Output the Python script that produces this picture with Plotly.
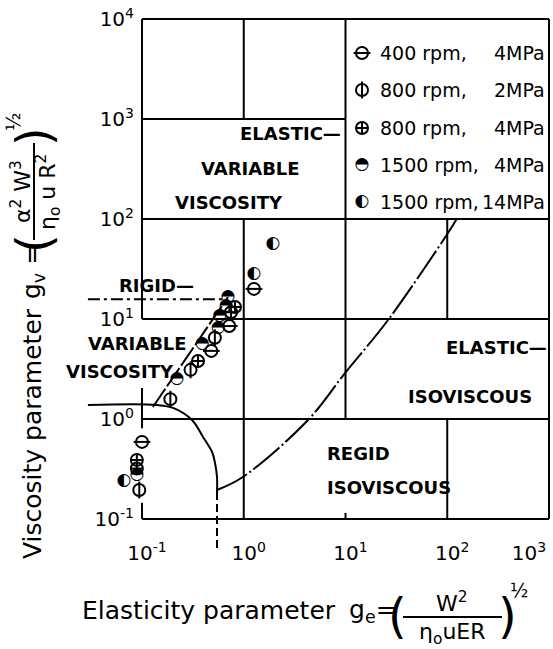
import plotly.graph_objects as go

# ---------------- data ----------------
# g_e = elasticity parameter, g_v = viscosity parameter
ge_400_4MPa = [1.26, 0.72, 0.48, 0.100]
gv_400_4MPa = [20.0, 8.5, 4.8, 0.59]
ge_800_2MPa = [0.52, 0.30, 0.19, 0.094]
gv_800_2MPa = [6.5, 3.1, 1.58, 0.195]
ge_800_4MPa = [0.82, 0.75, 0.355, 0.089, 0.089]
gv_800_4MPa = [13.2, 11.7, 3.8, 0.39, 0.32]
ge_1500_4MPa = [0.70, 0.67, 0.58, 0.56, 0.39, 0.22, 0.089]
gv_1500_4MPa = [16.6, 13.5, 10.7, 8.1, 5.6, 2.5, 0.275]
ge_1500_14MPa = [1.94, 1.26, 0.0665]
gv_1500_14MPa = [56.2, 28.2, 0.24]

legend_left = ["400 rpm,", "800 rpm,", "800 rpm,", "1500 rpm,", "1500 rpm,"]
legend_right = ["4MPa", "2MPa", "4MPa", "4MPa", "14MPa"]

# regime boundary curves
rigid_ge = [0.0294, 0.684]
rigid_gv = [15.8, 15.8]
iso_var_ge = [0.0294, 0.140, 0.202, 0.310, 0.398, 0.488, 0.522, 0.546, 0.546]
iso_var_gv = [1.38, 1.38, 1.29, 0.977, 0.661, 0.468, 0.363, 0.263, 0.186]
vert_ge = [0.546, 0.546]
vert_gv = [0.186, 0.049]
elastic_iso_ge = [0.546, 0.98, 4.28, 9.89, 26.2, 101.6, 125]
elastic_iso_gv = [0.195, 0.263, 0.977, 2.88, 9.77, 72.4, 102]
elastic_var_ge = [0.128, 0.700]
elastic_var_gv = [1.32, 16.6]

x_tickvals = [0.1, 1, 10, 100, 1000]
x_ticktext = ["10<sup>-1</sup>", "10<sup>0</sup>", "10<sup>1</sup>", "10<sup>2</sup>", "10<sup>3</sup>"]
y_tickvals = [0.1, 1, 10, 100, 1000, 10000]
y_ticktext = ["10<sup>-1</sup>", "10<sup>0</sup>", "10<sup>1</sup>", "10<sup>2</sup>", "10<sup>3</sup>", "10<sup>4</sup>"]

# frame / region box segments: (constant, start, end)
h_segments = [(1e4, 0.1, 1e3), (1e3, 0.1, 10), (1e2, 0.1, 1e3), (10, 0.1, 1e3), (1, 0.1, 1e3), (0.1, 0.1, 1e3)]
v_segments = [(0.1, 10, 1e4), (0.1, 0.81, 2.04), (0.1, 0.1, 0.145), (1, 1e3, 1e4), (1, 0.1, 1e2),
              (10, 1, 1e4), (10, 0.1, 0.115), (100, 10, 100), (100, 0.1, 1), (1e3, 0.1, 1e4)]

# ---------------- layout geometry (window pixels) ----------------
W, H = 553, 649
ML, MR, MT = 78, 0, 11
PH = 544
MB = H - MT - PH
PW = W - ML - MR
XPD, YPD = 101.75, 100.0  # pixels per decade
X_LO = -1 - (142 - ML) / XPD
X_HI = X_LO + PW / XPD
Y_LO = -1 - (H - MB - 519) / YPD
Y_HI = Y_LO + PH / YPD


def px(x):  # window pixel -> paper x
    return (x - ML) / PW


def py(y):  # window pixel -> paper y
    return (H - MB - y) / PH


FONT = "DejaVu Sans"
BLK = "black"

fig = go.Figure()

# boundary curves
fig.add_trace(go.Scatter(x=rigid_ge, y=rigid_gv, mode="lines",
                         line=dict(color=BLK, width=2, dash="12px,4px,3px,4px"), showlegend=False))
fig.add_trace(go.Scatter(x=iso_var_ge, y=iso_var_gv, mode="lines", line_shape="spline",
                         line=dict(color=BLK, width=2), showlegend=False))
fig.add_trace(go.Scatter(x=vert_ge, y=vert_gv, mode="lines",
                         line=dict(color=BLK, width=2, dash="8px,4px"), showlegend=False))
fig.add_trace(go.Scatter(x=elastic_iso_ge, y=elastic_iso_gv, mode="lines", line_shape="spline",
                         line=dict(color=BLK, width=2, dash="34px,3px,2px,3px"), showlegend=False))
fig.add_trace(go.Scatter(x=elastic_var_ge, y=elastic_var_gv, mode="lines",
                         line=dict(color=BLK, width=2, dash="22px,3px"), showlegend=False))

MS = 12
mline = dict(color=BLK, width=2)


def add_points(gx, gy, kind, xa="x", ya="y"):
    if kind == "theta":
        fig.add_trace(go.Scatter(x=gx, y=gy, xaxis=xa, yaxis=ya, mode="markers", cliponaxis=False,
                                 marker=dict(symbol="circle-open", size=MS, color=BLK, line=mline), showlegend=False))
        fig.add_trace(go.Scatter(x=gx, y=gy, xaxis=xa, yaxis=ya, mode="markers", cliponaxis=False,
                                 marker=dict(symbol="line-ew", size=MS, color=BLK, line=mline), showlegend=False))
    elif kind == "phi":
        fig.add_trace(go.Scatter(x=gx, y=gy, xaxis=xa, yaxis=ya, mode="markers", cliponaxis=False,
                                 marker=dict(symbol="circle-open", size=MS, color=BLK, line=mline), showlegend=False))
        fig.add_trace(go.Scatter(x=gx, y=gy, xaxis=xa, yaxis=ya, mode="markers", cliponaxis=False,
                                 marker=dict(symbol="line-ns", size=MS, color=BLK, line=mline), showlegend=False))
    elif kind == "plus":
        fig.add_trace(go.Scatter(x=gx, y=gy, xaxis=xa, yaxis=ya, mode="markers", cliponaxis=False,
                                 marker=dict(symbol="circle-cross-open", size=MS, color=BLK, line=mline),
                                 showlegend=False))
    else:
        glyph = "\u25d3" if kind == "tophalf" else "\u25d0"
        fig.add_trace(go.Scatter(x=gx, y=gy, xaxis=xa, yaxis=ya, mode="text", cliponaxis=False,
                                 text=[glyph] * len(gx), textposition="middle center",
                                 textfont=dict(family=FONT, size=17, color=BLK), showlegend=False))


series = [(ge_400_4MPa, gv_400_4MPa, "theta"), (ge_800_2MPa, gv_800_2MPa, "phi"),
          (ge_800_4MPa, gv_800_4MPa, "plus"), (ge_1500_4MPa, gv_1500_4MPa, "tophalf"),
          (ge_1500_14MPa, gv_1500_14MPa, "lefthalf")]
for gx, gy, kind in series:
    add_points(gx, gy, kind)

# legend keys (overlay axes in plot-fraction units)
leg_rows_px = [53, 90, 128, 165, 202]
for i, (_, _, kind) in enumerate(series):
    add_points([px(362)], [py(leg_rows_px[i])], kind, xa="x2", ya="y2")

annotations = []
LF = dict(family=FONT, size=19, color=BLK)
for i in range(5):
    annotations.append(dict(xref="paper", yref="paper", x=px(378), y=py(leg_rows_px[i]), text=legend_left[i],
                            xanchor="left", yanchor="middle", showarrow=False, font=LF))
    annotations.append(dict(xref="paper", yref="paper", x=px(547), y=py(leg_rows_px[i]), text=legend_right[i],
                            xanchor="right", yanchor="middle", showarrow=False, font=LF))

# region labels
regions = [("ELASTIC\u2014", 343, 133, "right"), ("VARIABLE", 250, 168, "center"),
           ("VISCOSITY", 229, 203, "center"), ("RIGID\u2014", 117, 285, "left"),
           ("VARIABLE", 137, 343, "center"), ("VISCOSITY", 120, 371, "center"),
           ("ELASTIC\u2014", 549, 347, "right"), ("ISOVISCOUS", 470, 397, "center"),
           ("REGID", 325, 453, "left"), ("ISOVISCOUS", 325, 487, "left")]
for t, x, y, anc in regions:
    annotations.append(dict(xref="paper", yref="paper", x=px(x), y=py(y), text=t, xanchor=anc,
                            yanchor="middle", showarrow=False,
                            font=dict(family=FONT, size=18, color=BLK, weight="bold")))

TF = dict(family=FONT, size=25, color=BLK)
SF = dict(family=FONT, size=22, color=BLK)
PF = dict(family=FONT, size=48, color=BLK)
HF = dict(family=FONT, size=19, color=BLK)
shapes = []

# x-axis title pieces
annotations += [
    dict(xref="paper", yref="paper", x=px(80), y=py(610), text="Elasticity parameter",
         xanchor="left", yanchor="middle", showarrow=False, font=TF),
    dict(xref="paper", yref="paper", x=px(373), y=py(611), text="g<sub>e</sub>=",
         xanchor="center", yanchor="middle", showarrow=False, font=TF),
    dict(xref="paper", yref="paper", x=px(397), y=py(616), text="(", xanchor="center", yanchor="middle",
         showarrow=False, font=PF),
    dict(xref="paper", yref="paper", x=px(452), y=py(602), text="W<sup>2</sup>", xanchor="center",
         yanchor="middle", showarrow=False, font=SF),
    dict(xref="paper", yref="paper", x=px(452), y=py(633), text="\u03b7<sub>o</sub>uER", xanchor="center",
         yanchor="middle", showarrow=False, font=SF),
    dict(xref="paper", yref="paper", x=px(507), y=py(616), text=")", xanchor="center", yanchor="middle",
         showarrow=False, font=PF),
    dict(xref="paper", yref="paper", x=px(519), y=py(590), text="\u00bd", xanchor="center", yanchor="middle",
         showarrow=False, font=HF),
]
shapes.append(dict(type="line", xref="paper", yref="paper", x0=px(403), x1=px(502), y0=py(617), y1=py(617),
                   line=dict(color=BLK, width=2)))

# y-axis title pieces (rotated)
annotations += [
    dict(xref="paper", yref="paper", x=px(32), y=py(434), text="Viscosity parameter",
         textangle=-90, xanchor="center", yanchor="middle", showarrow=False, font=TF),
    dict(xref="paper", yref="paper", x=px(33), y=py(272), text="g<sub>v</sub> =",
         textangle=-90, xanchor="center", yanchor="middle", showarrow=False, font=TF),
    dict(xref="paper", yref="paper", x=px(34), y=py(244), text="(", textangle=-90, xanchor="center",
         yanchor="middle", showarrow=False, font=PF),
    dict(xref="paper", yref="paper", x=px(21), y=py(192), text="\u03b1<sup>2</sup> W<sup>3</sup>",
         textangle=-90, xanchor="center", yanchor="middle", showarrow=False, font=SF),
    dict(xref="paper", yref="paper", x=px(48), y=py(192), text="\u03b7<sub>o</sub> u R<sup>2</sup>",
         textangle=-90, xanchor="center", yanchor="middle", showarrow=False, font=SF),
    dict(xref="paper", yref="paper", x=px(34), y=py(137), text=")", textangle=-90, xanchor="center",
         yanchor="middle", showarrow=False, font=PF),
    dict(xref="paper", yref="paper", x=px(13), y=py(122), text="\u00bd", textangle=-90, xanchor="center",
         yanchor="middle", showarrow=False, font=HF),
]
shapes.append(dict(type="line", xref="paper", yref="paper", x0=px(34), x1=px(34), y0=py(240), y1=py(143),
                   line=dict(color=BLK, width=2)))

# frame lines in data coordinates
for yv, x0, x1 in h_segments:
    shapes.append(dict(type="line", xref="x", yref="y", x0=x0, x1=x1, y0=yv, y1=yv,
                       line=dict(color=BLK, width=2), layer="below"))
for xv, y0, y1 in v_segments:
    shapes.append(dict(type="line", xref="x", yref="y", x0=xv, x1=xv, y0=y0, y1=y1,
                       line=dict(color=BLK, width=2), layer="below"))

x_ticktext_disp = x_ticktext[:-1] + [x_ticktext[-1] + "\u2003\u2003\u2002"]

fig.update_layout(
    width=W, height=H, margin=dict(l=ML, r=MR, t=MT, b=MB, autoexpand=False),
    paper_bgcolor="white", plot_bgcolor="white", showlegend=False,
    xaxis=dict(type="log", range=[X_LO, X_HI], anchor="free", position=py(519),
               tickvals=x_tickvals, ticktext=x_ticktext_disp, showgrid=False, zeroline=False,
               showline=False, ticks="", ticklabelstandoff=20, ticklabelshift=5, automargin=False,
               ticklabeloverflow="allow", tickfont=dict(family=FONT, size=20, color=BLK)),
    yaxis=dict(type="log", range=[Y_LO, Y_HI], anchor="free", position=px(142),
               tickvals=y_tickvals, ticktext=y_ticktext, showgrid=False, zeroline=False,
               showline=False, ticks="", ticklabelstandoff=8, automargin=False,
               ticklabeloverflow="allow", tickfont=dict(family=FONT, size=20, color=BLK)),
    xaxis2=dict(overlaying="x", range=[0, 1], visible=False, anchor="y2", automargin=False),
    yaxis2=dict(overlaying="y", range=[0, 1], visible=False, anchor="x2", automargin=False),
    annotations=annotations, shapes=shapes,
)

fig.write_html("out.html", config={"displayModeBar": False},
               post_script="document.body.style.margin='0';document.body.style.overflow='hidden';")
